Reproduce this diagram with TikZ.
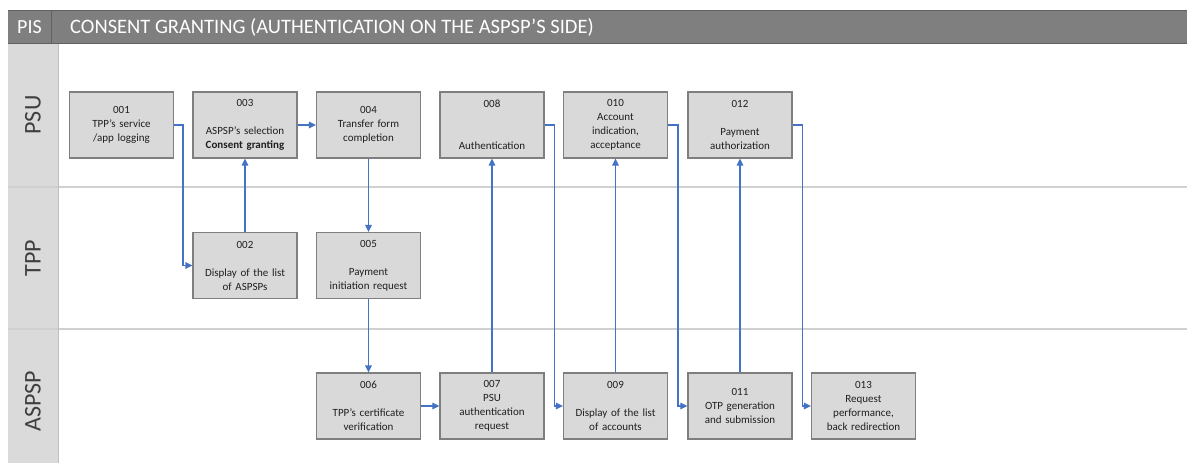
\documentclass[tikz,border=0pt]{standalone}
\usepackage{fontspec}
\setmainfont{Carlito}
\usetikzlibrary{arrows.meta}
\definecolor{hdr}{HTML}{7F7F7F}
\definecolor{hdrline}{HTML}{616161}
\definecolor{lanefill}{HTML}{DADADA}
\definecolor{laneline}{HTML}{D0D0D0}
\definecolor{boxfill}{HTML}{D9D9D9}
\definecolor{boxline}{HTML}{7F7F7F}
\definecolor{flow}{HTML}{4472C4}
\definecolor{txt}{HTML}{1F1F1F}
\definecolor{lanetxt}{HTML}{3F3F3F}
\tikzset{
  stepbox/.style={draw=boxline, line width=1.1pt, fill=boxfill, minimum width=104pt,
    minimum height=66pt, inner sep=0pt, text width=102pt, align=center, text=txt,
    font=\fontsize{11}{14}\selectfont},
  flowline/.style={draw=flow, line width=1.5pt, -{Triangle[length=7pt,width=6.5pt]}},
  lanelabel/.style={rotate=90, text=lanetxt, font=\fontsize{24}{26}\selectfont},
}
\begin{document}
\begin{tikzpicture}[x=1pt,y=-1pt]
\useasboundingbox (0,0) rectangle (1187,463);
% swimlane frame
\fill[white] (0,0) rectangle (1187,463);
\fill[lanefill] (8,44) rectangle (58,463);
\draw[laneline, line width=1.5pt] (8,187) -- (1187,187);
\draw[laneline, line width=1.5pt] (8,329) -- (1187,329);
\draw[color=black!25, line width=0.8pt] (58,44) -- (58,463);
% header band
\fill[hdr] (8,10) rectangle (1187,44);
\draw[hdrline, line width=1pt] (8,10.5) -- (1187,10.5);
\draw[hdrline, line width=1pt] (8,43.5) -- (1187,43.5);
\draw[hdrline, line width=0.8pt] (51,10) -- (51,44);
\node (pis) [text=white, font=\fontsize{20}{22}\selectfont] at (29.5,27.5) {PIS};
\node (title) [anchor=west, text=white, font=\fontsize{20.5}{22}\selectfont, inner sep=0pt] at (70,27.5) {CONSENT GRANTING (AUTHENTICATION ON THE ASPSP'S SIDE)};
% lane names
\node (psu) [lanelabel] at (33,115) {PSU};
\node (tpp) [lanelabel] at (33,258) {TPP};
\node (aspsp) [lanelabel] at (33,401) {ASPSP};
% process steps
\node (n001) [stepbox] at (121.5,125) {001\\TPP's service\\/app logging};
\node (n003) [stepbox] at (245,125) {003\\[14pt]ASPSP's selection\\\textbf{Consent granting}};
\node (n004) [stepbox] at (368.5,125) {004\\Transfer form\\completion};
\node (n008) [stepbox] at (492,125) {008\\[28pt]Authentication};
\node (n010) [stepbox] at (615.5,125) {010\\Account\\indication,\\acceptance};
\node (n012) [stepbox] at (740,125) {012\\[14pt]Payment\\authorization};
\node (n002) [stepbox] at (245,265.5) {002\\[14pt]Display of the list\\of ASPSPs};
\node (n005) [stepbox] at (368.5,265.5) {005\\[14pt]Payment\\initiation request};
\node (n006) [stepbox] at (368.5,406) {006\\[14pt]TPP's certificate\\verification};
\node (n007) [stepbox] at (492,406) {007\\PSU\\authentication\\request};
\node (n009) [stepbox] at (615.5,406) {009\\[14pt]Display of the list\\of accounts};
\node (n011) [stepbox] at (740,406) {011\\OTP generation\\and submission};
\node (n013) [stepbox] at (863.5,406) {013\\Request\\performance,\\back redirection};
% flow
\draw[flowline] (n001.east) -- ++(9,0) |- (n002.west);
\draw[flowline] (n002.north) -- (n003.south);
\draw[flowline] (n003.east) -- (n004.west);
\draw[flowline] (n004.south) -- (n005.north);
\draw[flowline] (n005.south) -- (n006.north);
\draw[flowline] (n006.east) -- (n007.west);
\draw[flowline] (n007.north) -- (n008.south);
\draw[flowline] (n008.east) -- ++(10,0) |- (n009.west);
\draw[flowline] (n009.north) -- (n010.south);
\draw[flowline] (n010.east) -- ++(10,0) |- (n011.west);
\draw[flowline] (n011.north) -- (n012.south);
\draw[flowline] (n012.east) -- ++(10,0) |- (n013.west);
\end{tikzpicture}
\end{document}
